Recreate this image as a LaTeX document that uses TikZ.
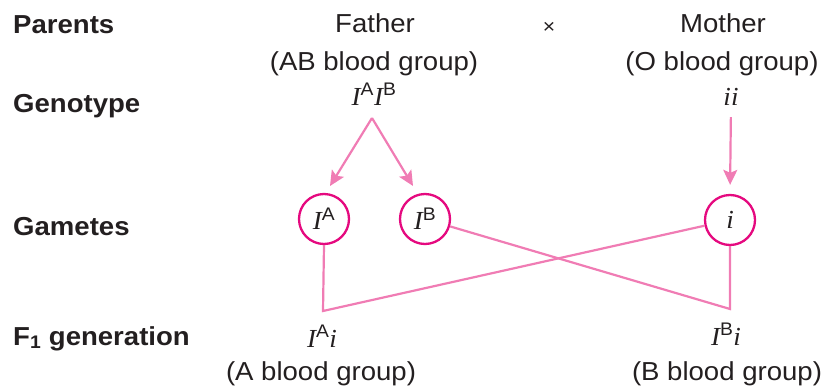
\documentclass[tikz,border=0pt]{standalone}
\usepackage{fontspec}
\setmainfont{Liberation Sans}[FakeStretch=1.06]
\newfontfamily\timesf{Liberation Serif}[FakeStretch=1.04]
\usetikzlibrary{arrows.meta}
\definecolor{txt}{HTML}{231F20}
\definecolor{mag}{HTML}{E5097F}
\definecolor{pinkl}{HTML}{F07CB4}
\newcommand{\gI}{{\timesf\itshape I}}
\newcommand{\gi}{{\timesf\itshape i}}
\newcommand{\sps}[1]{\textsuperscript{#1}}
\begin{document}
\begin{tikzpicture}[x=1pt,y=-1pt,
  font=\fontsize{26}{30}\selectfont,
  rowlabel/.style={anchor=base west, inner sep=0, text=txt, font=\bfseries\fontsize{26}{30}\selectfont},
  txtnode/.style={anchor=base, inner sep=0, text=txt},
  gamete/.style={circle, draw=mag, line width=2.3pt, minimum size=50pt, inner sep=0, text=txt},
  link/.style={draw=pinkl, line width=2.2pt, line join=miter},
  arr/.style={link, -{Stealth[length=15pt,width=14pt,inset=3pt]}}]
\useasboundingbox (0,0) rectangle (830,391);
% row labels
\node[rowlabel] (parents) at (13,33) {Parents};
\node[rowlabel] (genotype) at (13,112) {Genotype};
\node[rowlabel] (gametes) at (13,235) {Gametes};
\node[rowlabel] (f1) at (13,345) {F\textsubscript{1} generation};
% parents
\node[txtnode] (father) at (375,32) {Father};
\node[txtnode] (fatherbg) at (374,70) {(AB blood group)};
\node[txtnode] (cross) at (549,33) {\fontsize{20}{20}\selectfont ×};
\node[txtnode] (mother) at (723,32) {Mother};
\node[txtnode] (motherbg) at (722,70) {(O blood group)};
% genotypes
\node[txtnode] (fgeno) at (374,105) {\gI\sps{A}\gI\sps{B}};
\node[txtnode] (mgeno) at (731,105) {\gi\gi};
% gametes
\node[gamete] (gA) at (324,219) {\gI\sps{A}};
\node[gamete] (gB) at (425,219) {\gI\sps{B}};
\node[gamete] (gi) at (730,220) {\gi};
% F1
\node[txtnode] (fA) at (322,347) {\gI\sps{A}\gi};
\node[txtnode] (fAbg) at (321,380) {(A blood group)};
\node[txtnode] (fB) at (726,345) {\gI\sps{B}\gi};
\node[txtnode] (fBbg) at (727,380) {(B blood group)};
% connectors
\coordinate (apex) at (372,118);
\coordinate (tipA) at (330,186);
\coordinate (tipB) at (413,186);
\coordinate (cornerA) at (323,311);
\coordinate (cornerB) at (730,309);
\draw[arr] (apex) -- (tipA);
\draw[arr] (apex) -- (tipB);
\draw[arr, shorten <=12pt, shorten >=9pt] (mgeno.south) -- (gi.north);
\draw[link] (gA.south) -- (cornerA) -- (gi);
\draw[link] (gB) -- (cornerB) -- (gi.south);
\end{tikzpicture}
\end{document}
